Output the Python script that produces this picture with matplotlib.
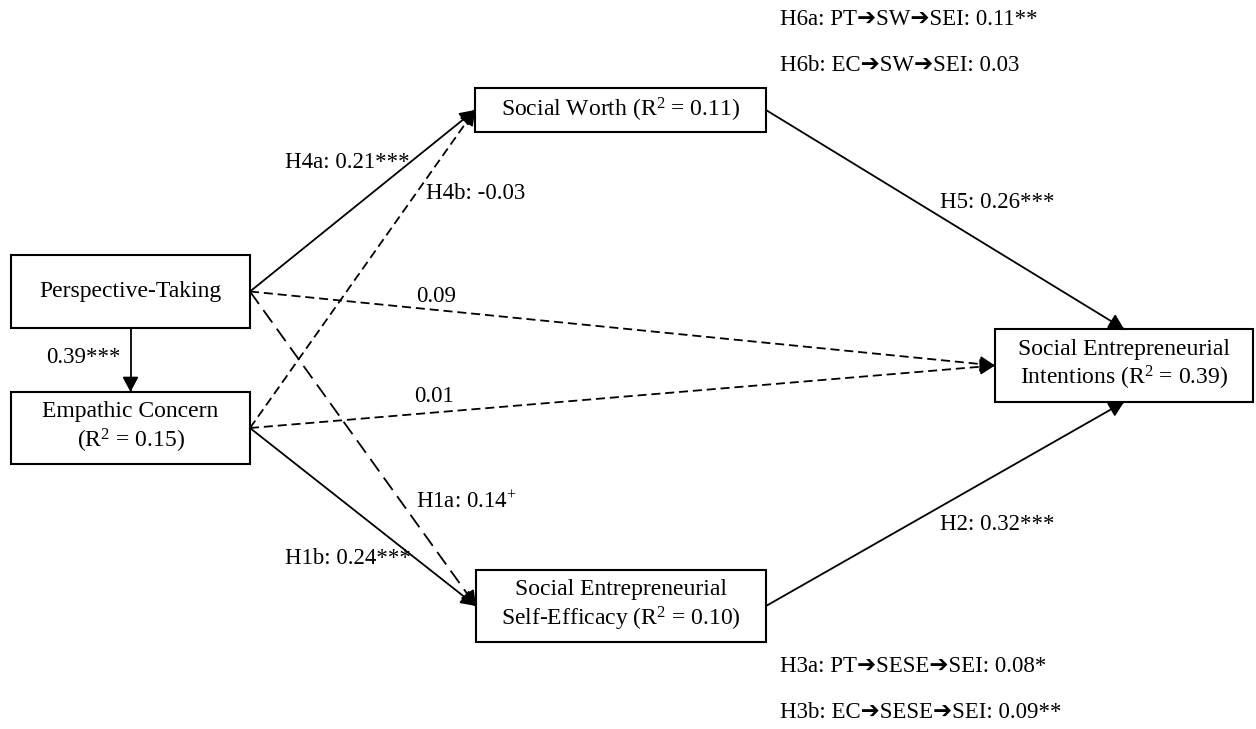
import numpy as np
import matplotlib.pyplot as plt

plt.rcParams['font.family'] = ['Liberation Serif', 'DejaVu Sans']
plt.rcParams['mathtext.fontset'] = 'custom'
plt.rcParams['mathtext.rm'] = 'Liberation Serif'
plt.rcParams['mathtext.it'] = 'Liberation Serif:italic'
plt.rcParams['lines.scale_dashes'] = False

# constructs
nodes = ['PT', 'EC', 'SW', 'SESE', 'SEI']
node_text = ['Perspective-Taking',
             'Empathic Concern\n($\\mathrm{R}^2$ = 0.15)',
             'Social Worth ($\\mathrm{R}^2$ = 0.11)',
             'Social Entrepreneurial\nSelf-Efficacy ($\\mathrm{R}^2$ = 0.10)',
             'Social Entrepreneurial\nIntentions ($\\mathrm{R}^2$ = 0.39)']

# paths
path_src = ['PT', 'EC', 'PT', 'EC', 'PT', 'EC', 'SW', 'SESE', 'PT']
path_dst = ['SW', 'SW', 'SEI', 'SEI', 'SESE', 'SESE', 'SEI', 'SEI', 'EC']
path_labels = ['H4a: 0.21***', 'H4b: -0.03', '0.09', '0.01',
               'H1a: 0.14$^{+}$', 'H1b: 0.24***', 'H5: 0.26***', 'H2: 0.32***',
               '0.39***']
path_sig = ['solid', 'short', 'short', 'short', 'long', 'solid', 'solid', 'solid', 'solid']

# indirect effects (arrow glyph falls back to DejaVu Sans)
indirect_top = ['H6a: PT\u2794SW\u2794SEI: 0.11**', 'H6b: EC\u2794SW\u2794SEI: 0.03']
indirect_bottom = ['H3a: PT\u2794SESE\u2794SEI: 0.08*', 'H3b: EC\u2794SESE\u2794SEI: 0.09**']

# layout (pixel space)
box = {'PT': (130.5, 291.5, 239, 73), 'EC': (130.5, 428, 239, 72),
       'SW': (620.5, 110, 291, 44), 'SESE': (621, 606, 290, 72),
       'SEI': (1124, 365.5, 258, 73)}
ports = [('r', 'l'), ('r', 'l'), ('r', 'l'), ('r', 'l'), ('r', 'l'), ('r', 'l'),
         ('r', 't'), ('r', 'b'), ('b', 't')]
label_pos = [(285, 162), (426, 193), (416, 296), (414, 396), (416, 502),
             (285, 559), (940, 202), (940, 524), (46, 357)]
dash_map = {'solid': '-', 'short': (0, (6.5, 3.5)), 'long': (0, (11, 5.5))}

def port(name, side):
    cx, cy, w, h = box[name]
    return {'r': (cx + w / 2, cy), 'l': (cx - w / 2, cy),
            't': (cx, cy - h / 2), 'b': (cx, cy + h / 2)}[side]

fig = plt.figure(figsize=(12.56, 7.29), dpi=100)
ax = fig.add_axes([0, 0, 1, 1])
ax.set_xlim(0, 1256)
ax.set_ylim(729, 0)
ax.axis('off')

fs_box = 17
fs_lab = 16.5
for name, txt in zip(nodes, node_text):
    cx, cy, w, h = box[name]
    ax.add_patch(plt.Rectangle((cx - w / 2, cy - h / 2), w, h, fill=False,
                               ec='black', lw=1.5, zorder=3))
    ax.text(cx, cy, txt, ha='center', va='center', ma='center', fontsize=fs_box,
            linespacing=1.2, zorder=4)

for s, d, lab, sig, (ps, pd), (lx, ly) in zip(path_src, path_dst, path_labels,
                                              path_sig, ports, label_pos):
    p0 = np.array(port(s, ps))
    p1 = np.array(port(d, pd))
    ax.plot([p0[0], p1[0]], [p0[1], p1[1]], color='black', lw=1.3,
            linestyle=dash_map[sig], zorder=2)
    u = (p1 - p0) / np.hypot(*(p1 - p0))
    ax.annotate('', xy=p1, xytext=p1 - u * 14,
                arrowprops=dict(arrowstyle='-|>,head_length=0.45,head_width=0.24',
                                mutation_scale=20, color='black', lw=1.3,
                                shrinkA=0, shrinkB=0), zorder=3)
    ax.text(lx, ly, lab, ha='left', va='center', fontsize=fs_lab, zorder=4)

for txt, y in zip(indirect_top, [19, 65]):
    ax.text(780, y, txt, ha='left', va='center', fontsize=fs_lab)
for txt, y in zip(indirect_bottom, [666, 712]):
    ax.text(780, y, txt, ha='left', va='center', fontsize=fs_lab)

fig.savefig('out.png', dpi=100)
